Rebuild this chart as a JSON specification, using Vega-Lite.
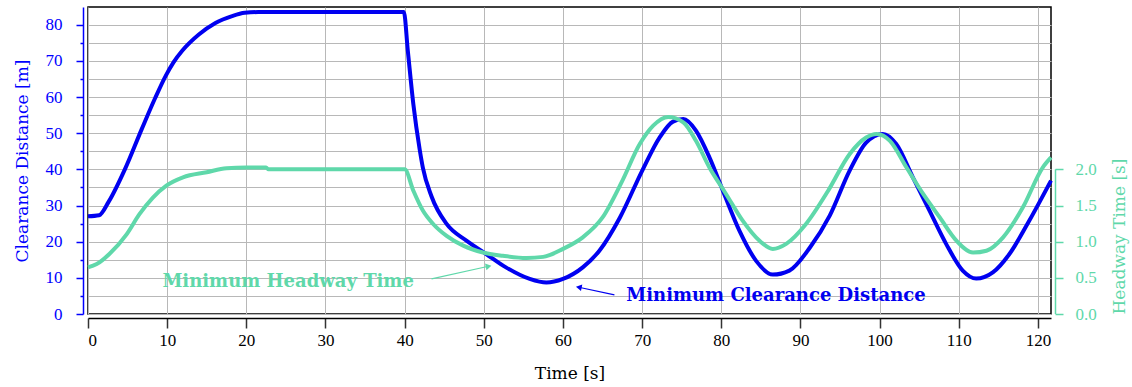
{
  "$schema": "https://vega.github.io/schema/vega-lite/v6.json",
  "autosize": {"type": "none"},
  "padding": {"left": 88, "top": 7, "right": 81, "bottom": 73},
  "width": 963,
  "height": 307,
  "background": "white",
  "config": {"view": {"stroke": "black", "strokeWidth": 1.5}},
  "datasets": {
    "clearance": [
      {"t":0,"d":27},{"t":1.4,"d":27.3},{"t":2.6,"d":31},{"t":4.7,"d":40.2},{"t":6.8,"d":51.2},{"t":8.5,"d":59.8},{"t":9.8,"d":65.8},{"t":10.8,"d":69.6},{"t":11.9,"d":72.8},{"t":14,"d":77.3},{"t":16.1,"d":80.5},{"t":18.2,"d":82.4},{"t":19.8,"d":83.3},{"t":21.5,"d":83.5},{"t":30,"d":83.5},{"t":39.9,"d":83.5},{"t":40.4,"d":72.8},{"t":41.1,"d":58},{"t":41.9,"d":45.5},{"t":42.3,"d":40.5},{"t":43.4,"d":32.5},{"t":45.3,"d":24.9},{"t":47.8,"d":20.3},{"t":50.3,"d":16.6},{"t":52.8,"d":12.9},{"t":55.8,"d":9.7},{"t":57.9,"d":8.7},{"t":60,"d":9.7},{"t":62.5,"d":12.9},{"t":64.6,"d":17.5},{"t":67.2,"d":26.7},{"t":70,"d":39.6},{"t":72.2,"d":48.8},{"t":73.9,"d":53.2},{"t":75.2,"d":53.9},{"t":76.8,"d":50.7},{"t":78.5,"d":43.3},{"t":80.2,"d":34.1},{"t":82.3,"d":23},{"t":84.4,"d":14.7},{"t":86.5,"d":10.9},{"t":88.6,"d":12},{"t":91.2,"d":18.4},{"t":93.7,"d":27.2},{"t":96.2,"d":39.6},{"t":98.3,"d":47.4},{"t":100.4,"d":49.8},{"t":102.1,"d":47},{"t":104.2,"d":37.8},{"t":106.3,"d":28.6},{"t":108.4,"d":19.4},{"t":110.5,"d":12},{"t":112.2,"d":9.8},{"t":114.3,"d":11.5},{"t":116.4,"d":16.6},{"t":118.9,"d":25.8},{"t":121.65,"d":36.9}
    ],
    "headway": [
      {"t":0,"h":0.645},{"t":1.1,"h":0.69},{"t":2.7,"h":0.83},{"t":4.9,"h":1.105},{"t":6.5,"h":1.38},{"t":8.2,"h":1.61},{"t":9.9,"h":1.775},{"t":12,"h":1.89},{"t":15,"h":1.96},{"t":17.5,"h":2.015},{"t":20,"h":2.025},{"t":22.5,"h":2.025},{"t":22.8,"h":2.0},{"t":40,"h":2.0},{"t":41.1,"h":1.705},{"t":42.3,"h":1.43},{"t":43.6,"h":1.245},{"t":45.3,"h":1.08},{"t":47.4,"h":0.945},{"t":49.9,"h":0.85},{"t":52.4,"h":0.805},{"t":55.4,"h":0.775},{"t":57.5,"h":0.79},{"t":60,"h":0.9},{"t":62.5,"h":1.06},{"t":65,"h":1.335},{"t":67.4,"h":1.82},{"t":69.7,"h":2.35},{"t":71.4,"h":2.605},{"t":73.3,"h":2.725},{"t":75.2,"h":2.65},{"t":76.8,"h":2.395},{"t":78.5,"h":2.025},{"t":80.6,"h":1.66},{"t":82.7,"h":1.29},{"t":84.8,"h":1.015},{"t":86.5,"h":0.9},{"t":88.2,"h":0.97},{"t":90.7,"h":1.245},{"t":93.5,"h":1.705},{"t":96.2,"h":2.21},{"t":98.3,"h":2.44},{"t":99.6,"h":2.49},{"t":101.3,"h":2.395},{"t":103.4,"h":2.025},{"t":105.5,"h":1.66},{"t":107.6,"h":1.335},{"t":109.7,"h":1.015},{"t":111.8,"h":0.85},{"t":113.5,"h":0.875},{"t":115.6,"h":1.06},{"t":118.1,"h":1.475},{"t":120.6,"h":2.025},{"t":121.65,"h":2.165}
    ],
    "labels": [
      {"t":9.4,"v":7.5,"text":"Minimum Headway Time","series":"headway"},
      {"t":68.0,"v":3.5,"text":"Minimum Clearance Distance","series":"clearance"}
    ],
    "arrows": [
      {"t":43.4,"v":9.7,"t2":50.6,"v2":13.2,"series":"headway"},
      {"t":66.5,"v":5.3,"t2":62.0,"v2":7.4,"series":"clearance"}
    ]
  },
  "layer": [
    {
      "data": {"name": "clearance"},
      "mark": {"type": "line", "color": "#0000f0", "strokeWidth": 4, "interpolate": "monotone"},
      "encoding": {
        "x": {"field": "t", "type": "quantitative",
          "scale": {"domain": [0, 121.65], "nice": false, "zero": false},
          "axis": {"values": [0,10,20,30,40,50,60,70,80,90,100,110,120], "title": "Time [s]",
            "grid": true, "gridColor": "#b8b8b8", "gridWidth": 1,
            "domainColor": "black", "domainWidth": 1.5, "tickColor": "#333333", "tickWidth": 1.5, "tickSize": 10, "offset": 4,
            "labelFont": "Liberation Serif", "labelFontSize": 17, "labelColor": "black", "labelPadding": 4,
            "titleFont": "DejaVu Serif", "titleFontSize": 17, "titleFontWeight": "normal", "titleColor": "black", "titlePadding": 17}},
        "y": {"field": "d", "type": "quantitative",
          "scale": {"domain": [0, 84.9], "nice": false, "zero": true},
          "axis": {"values": [0,5,10,15,20,25,30,35,40,45,50,55,60,65,70,75,80],
            "labelExpr": "datum.value % 10 === 0 ? datum.label : ''",
            "tickSize": {"condition": {"test": "datum.value % 10 === 0", "value": 7}, "value": 3},
            "title": "Clearance Distance [m]",
            "grid": true, "gridColor": "#b8b8b8", "gridWidth": 1,
            "domainColor": "#0000ff", "domainWidth": 1.5, "tickColor": "#0000ff", "tickWidth": 1.5, "offset": 5,
            "labelFont": "Liberation Serif", "labelFontSize": 17, "labelColor": "#0000ff", "labelPadding": 14,
            "titleFont": "DejaVu Serif", "titleFontSize": 17, "titleFontWeight": "normal", "titleColor": "#0000ff", "titlePadding": 14}}
      }
    },
    {
      "data": {"name": "headway"},
      "mark": {"type": "line", "color": "#5fd8aa", "strokeWidth": 4, "interpolate": "monotone"},
      "encoding": {
        "x": {"field": "t", "type": "quantitative"},
        "y": {"field": "h", "type": "quantitative",
          "scale": {"domain": [0, 4.245], "nice": false, "zero": true},
          "axis": {"orient": "right", "values": [0, 0.5, 1, 1.5, 2], "format": ".1f", "title": "Headway Time [s]",
            "grid": false, "domain": false, "tickColor": "#5fd8aa", "tickWidth": 1.5, "tickSize": 8, "offset": 4,
            "labelFont": "Liberation Serif", "labelFontSize": 17, "labelColor": "#5fd8aa", "labelPadding": 12,
            "titleFont": "DejaVu Serif", "titleFontSize": 17, "titleFontWeight": "normal", "titleColor": "#5fd8aa",
            "titleAngle": 270, "titleBaseline": "top", "titleAnchor": "start", "titlePadding": 15}}
      }
    },
    {
      "data": {"values": [{}]},
      "mark": {"type": "rule", "color": "#5fd8aa", "strokeWidth": 1.5, "xOffset": 4.5},
      "encoding": {
        "x": {"datum": 121.65, "type": "quantitative"},
        "y": {"datum": 0, "type": "quantitative", "scale": {"domain": [0, 4.245], "nice": false}, "axis": null},
        "y2": {"datum": 2}
      }
    },
    {
      "data": {"name": "labels"},
      "mark": {"type": "text", "font": "DejaVu Serif", "fontWeight": "bold", "fontSize": 18, "align": "left", "baseline": "alphabetic"},
      "encoding": {
        "x": {"field": "t", "type": "quantitative"},
        "y": {"field": "v", "type": "quantitative", "scale": {"domain": [0, 84.9], "nice": false}, "axis": null},
        "text": {"field": "text"},
        "color": {"field": "series", "type": "nominal", "scale": {"domain": ["clearance", "headway"], "range": ["#0000f0", "#5fd8aa"]}, "legend": null}
      }
    },
    {
      "data": {"name": "arrows"},
      "mark": {"type": "rule", "strokeWidth": 1.2},
      "encoding": {
        "x": {"field": "t", "type": "quantitative"},
        "y": {"field": "v", "type": "quantitative", "scale": {"domain": [0, 84.9], "nice": false}, "axis": null},
        "x2": {"field": "t2"},
        "y2": {"field": "v2"},
        "color": {"field": "series", "type": "nominal", "legend": null}
      }
    },
    {
      "data": {"name": "arrows"},
      "transform": [{"filter": "datum.series === 'headway'"}],
      "mark": {"type": "point", "shape": "triangle-right", "filled": true, "size": 45, "angle": 347.5, "opacity": 1},
      "encoding": {
        "x": {"field": "t2", "type": "quantitative"},
        "y": {"field": "v2", "type": "quantitative", "scale": {"domain": [0, 84.9], "nice": false}, "axis": null},
        "color": {"field": "series", "type": "nominal", "legend": null}
      }
    },
    {
      "data": {"name": "arrows"},
      "transform": [{"filter": "datum.series === 'clearance'"}],
      "mark": {"type": "point", "shape": "triangle-right", "filled": true, "size": 45, "angle": 191.6, "opacity": 1},
      "encoding": {
        "x": {"field": "t2", "type": "quantitative"},
        "y": {"field": "v2", "type": "quantitative", "scale": {"domain": [0, 84.9], "nice": false}, "axis": null},
        "color": {"field": "series", "type": "nominal", "legend": null}
      }
    }
  ],
  "resolve": {"scale": {"y": "independent"}, "axis": {"y": "independent"}}
}
